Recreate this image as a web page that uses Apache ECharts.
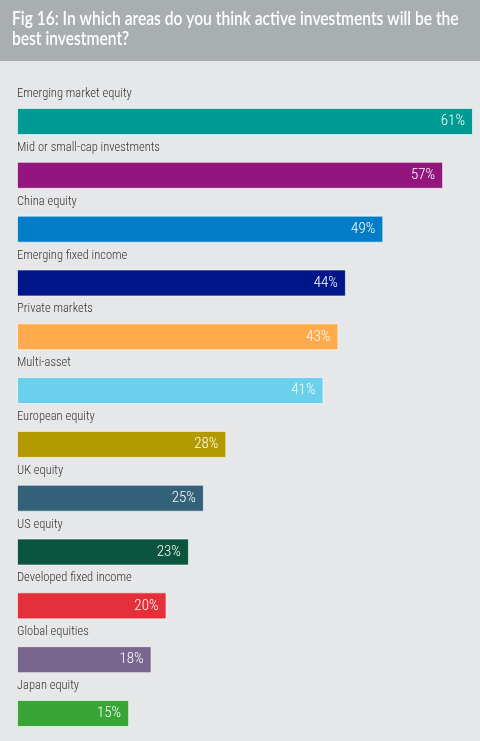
<!DOCTYPE html>
<html>
<head>
<meta charset="utf-8">
<script src="https://cdn.jsdelivr.net/npm/echarts@6/dist/echarts.min.js"></script>
<style>
html,body{margin:0;padding:0;background:#E6E7E9;}
#c{width:480px;height:741px;}
</style>
</head>
<body>
<div id="c"></div>
<script>
const categories = ["Emerging market equity","Mid or small-cap investments","China equity","Emerging fixed income","Private markets","Multi-asset","European equity","UK equity","US equity","Developed fixed income","Global equities","Japan equity"];
const values = [61,57,49,44,43,41,28,25,23,20,18,15];
const colors = ["#009A94","#93167E","#007DC6","#001689","#FFAA4C","#6AD0EC","#B39A00","#336179","#0B553F","#E4303A","#79668E","#3AA537"];
const titleLines = ["Fig 16: In which areas do you think active investments will be the", "best investment?"];

const narrow = "'Roboto Condensed', 'Liberation Sans Narrow', Lato";
const chart = echarts.init(document.getElementById('c'), null, {renderer:'canvas'});
chart.setOption({
  backgroundColor: '#E6E7E9',
  animation: false,
  graphic: [
    {type:'rect', left:0, top:0, shape:{width:480, height:61}, style:{fill:'#A9AEB1'}, z:0},
    {type:'text', x:12, y:9, scaleX:0.82, z:1,
      style:{text:titleLines.join('\n'), fill:'#ffffff', font:'600 19px Lato', lineHeight:20}}
  ],
  grid: {left:17, width:456, top:94.6, height:645.8},
  xAxis: {type:'value', min:0, max:61, show:false},
  yAxis: {
    type:'category', data:categories, inverse:true, show:false
  },
  series: [{
    type:'bar', barWidth:27, barGap:'-100%', silent:true, z:1,
    data: values,
    itemStyle:{color:'rgba(0,0,0,0)'},
    label:{show:true, position:[0,-14], align:'left', verticalAlign:'middle', color:'#333333',
      fontFamily:narrow, fontSize:12.5, fontWeight:300, formatter: p => categories[p.dataIndex]}
  },{
    type:'bar', barWidth:27, barGap:'-100%', z:2,
    data: values.map((v,i)=>({value:v, itemStyle:{color:colors[i]}})),
    itemStyle:{borderColor:'rgba(255,255,255,0.6)', borderWidth:1},
    label:{show:true, position:'insideRight', distance:8, color:'#ffffff', fontFamily:narrow, fontSize:15, fontWeight:300,
      formatter: p => p.value + '%'}
  }]
});
</script>
</body>
</html>
